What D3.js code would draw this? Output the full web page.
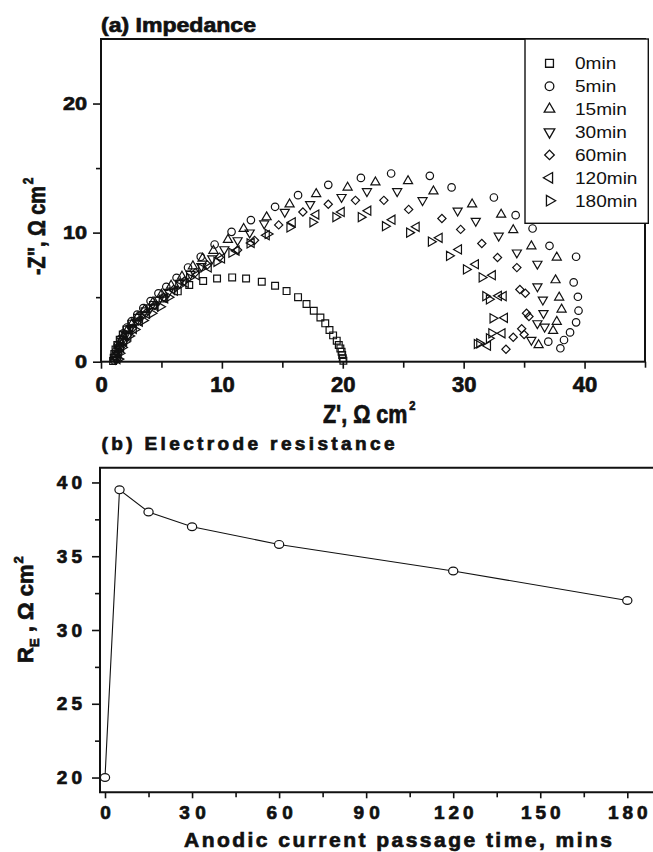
<!DOCTYPE html>
<html><head><meta charset="utf-8">
<script src="https://cdn.jsdelivr.net/npm/d3@7"></script>
<style>
html,body{margin:0;padding:0;background:#fff;}
svg{display:block;font-family:"Liberation Sans",Arial,Helvetica,sans-serif;}
.heavy{font-weight:bold;stroke:#111;stroke-width:0.7px;paint-order:stroke;}
</style></head><body>
<svg id="chart" width="653" height="852"></svg>
<script>
// ---------- Panel (a): Nyquist data, [Z', -Z''] in ohm cm^2 ----------
const s0min = [[1.0,0.05],[1.05,0.3],[1.1,0.6],[1.2,0.95],[1.35,1.3],[1.55,1.7],[1.8,2.1],[2.1,2.5],[2.5,2.95],[3.0,3.4],[3.6,3.9],[4.3,4.4],[5.1,4.9],[6.35,5.45],[7.3,5.94],[8.45,6.25],[9.6,6.45],[10.85,6.53],[12.0,6.45],[13.3,6.19],[14.4,5.88],[15.35,5.47],[16.3,5.0],[17.0,4.47],[17.6,3.95],[18.15,3.43],[18.55,2.97],[18.9,2.45],[19.2,2.04],[19.5,1.63],[19.67,1.29],[19.8,1.03],[19.9,0.77],[19.95,0.52],[20.0,0.26],[20.05,0.08]];
const s5min = [[1.1,0.1],[1.15,0.45],[1.25,0.85],[1.4,1.3],[1.6,1.75],[1.85,2.2],[2.15,2.65],[2.55,3.15],[3.0,3.65],[3.5,4.15],[4.1,4.7],[4.75,5.3],[5.4,5.8],[6.25,6.5],[7.2,7.3],[8.25,8.13],[9.4,9.08],[10.8,10.06],[12.4,10.97],[14.4,12.0],[16.3,12.9],[18.8,13.7],[21.5,14.24],[24.0,14.58],[27.2,14.4],[29.0,13.5],[32.5,12.72],[34.3,11.35],[35.7,10.32],[37.1,8.98],[39.3,8.13],[39.1,6.14],[39.45,5.03],[39.5,3.95],[39.3,3.05],[38.8,2.27],[38.3,1.68],[38.0,1.04],[37.0,1.55]];
const s15min = [[1.15,0.2],[1.25,0.6],[1.4,1.05],[1.6,1.5],[1.85,1.95],[2.15,2.4],[2.55,2.9],[3.0,3.4],[3.6,4.0],[4.3,4.6],[5.0,5.2],[5.8,5.9],[6.7,6.6],[7.6,7.4],[8.4,8.0],[9.3,8.6],[10.5,9.45],[11.8,10.3],[13.7,11.2],[15.6,12.2],[17.8,13.0],[20.4,13.5],[22.7,13.9],[25.4,14.0],[27.5,13.2],[30.7,12.2],[33.1,11.4],[34.1,10.2],[35.6,8.95],[37.7,8.08],[37.6,6.32],[37.9,4.98],[38.1,4.05],[37.7,3.1],[37.4,2.4],[36.2,1.29]];
const s30min = [[1.2,0.2],[1.3,0.65],[1.5,1.1],[1.75,1.6],[2.05,2.1],[2.45,2.6],[2.9,3.1],[3.45,3.65],[4.1,4.2],[4.8,4.8],[5.6,5.4],[6.5,6.1],[7.4,6.8],[8.3,7.4],[9.2,8.0],[10.2,8.7],[11.3,9.4],[12.3,10.0],[13.5,10.7],[15.2,11.6],[17.3,12.2],[19.9,12.75],[22.0,13.2],[24.5,13.2],[26.6,12.5],[29.5,11.7],[31.0,10.9],[32.9,9.75],[34.4,8.45],[36.1,7.58],[36.1,5.83],[36.55,4.8],[36.6,3.75],[36.1,2.97],[36.7,2.7],[35.6,1.68]];
const s60min = [[1.3,0.2],[1.4,0.65],[1.6,1.1],[1.85,1.55],[2.2,2.05],[2.6,2.6],[3.1,3.15],[3.7,3.75],[4.4,4.35],[5.2,5.0],[6.0,5.6],[6.9,6.25],[7.8,6.9],[8.8,7.5],[9.8,8.1],[11.3,8.65],[12.7,9.4],[14.7,10.6],[16.7,11.6],[18.8,12.2],[21.05,12.5],[23.4,12.5],[25.45,11.8],[28.2,11.1],[29.75,10.25],[31.5,9.15],[32.8,8.07],[34.4,7.29],[34.65,5.6],[35.1,5.3],[35.2,3.75],[35.4,3.5],[34.8,2.55],[35.0,2.1],[34.1,1.9],[33.5,0.97]];
const s120min = [[1.35,0.2],[1.45,0.65],[1.65,1.1],[1.9,1.55],[2.25,2.0],[2.7,2.55],[3.2,3.1],[3.8,3.7],[4.5,4.3],[5.3,4.9],[6.1,5.5],[7.0,6.1],[7.9,6.7],[8.9,7.3],[10.0,8.0],[11.2,8.6],[12.45,9.2],[13.7,9.8],[15.85,10.8],[17.8,11.4],[19.9,11.6],[22.1,11.7],[24.1,11.0],[26.1,10.45],[28.0,9.6],[29.6,8.7],[31.0,7.55],[32.4,6.7],[32.9,5.1],[33.3,5.08],[33.4,3.4],[33.2,2.2],[32.0,1.24]];
const s180min = [[1.45,0.2],[1.55,0.65],[1.75,1.1],[2.0,1.55],[2.35,2.0],[2.8,2.5],[3.5,3.2],[4.2,3.75],[4.9,4.26],[5.6,5.0],[6.4,5.86],[7.3,6.5],[8.3,7.23],[9.56,7.74],[10.8,8.44],[12.3,9.16],[13.8,9.9],[15.6,10.4],[17.5,10.8],[19.4,11.2],[21.5,11.2],[23.5,10.5],[25.5,10.0],[27.3,9.3],[28.8,8.2],[30.2,7.15],[31.5,6.53],[31.8,5.08],[32.1,4.83],[32.4,3.36],[32.3,2.2],[32.1,1.81],[31.3,1.42],[31.1,1.37]];
const seriesNames = ["0min","5min","15min","30min","60min","120min","180min"];
const seriesData = [s0min,s5min,s15min,s30min,s60min,s120min,s180min];
const zTicks = [0,10,20,30,40];
const zMinor = [5,15,25,35,45];
const zImTicks = [0,10,20];
const zImMinor = [5,15];

// ---------- Panel (b): electrode resistance ----------
const timeMin = [0,5,15,30,60,120,180];
const resistance = [20,39.5,38,37,35.8,34,32];
const timeTicks = [0,30,60,90,120,150,180];
const timeMinor = [15,45,75,105,135,165];
const resTicks = [20,25,30,35,40];
const resMinor = [22.5,27.5,32.5,37.5];

const svg = d3.select('#chart');
const INK = '#111';

function stretch(sel, f, mode){
  sel.each(function(){
    const w = this.getComputedTextLength();
    if (w>0) d3.select(this).attr('textLength', w*f).attr('lengthAdjust', mode||'spacingAndGlyphs');
  });
}

// marker shapes: [symbol type, size, rotation]
const shapes = [
  [d3.symbolSquare, 46, 0],
  [d3.symbolCircle, 44, 0],
  [d3.symbolTriangle, 36, 0],
  [d3.symbolTriangle, 36, 180],
  [d3.symbolSquare, 34, 45],
  [d3.symbolTriangle, 36, -90],
  [d3.symbolTriangle, 36, 90]
];

// ===== Panel (a) =====
const xA = d3.scaleLinear().domain([0,45]).range([101,645]);
const yA = d3.scaleLinear().domain([0,25]).range([361.7,39]);

const gA = svg.append('g');

const axXa = gA.append('g').attr('transform',`translate(0,${yA(0)})`)
  .call(d3.axisBottom(xA).tickValues(zTicks).tickSize(7).tickPadding(8).tickFormat(d3.format('d')));
gA.append('g').attr('transform',`translate(0,${yA(0)})`)
  .call(d3.axisBottom(xA).tickValues(zMinor).tickSize(6).tickFormat(''));
const axYa = gA.append('g').attr('transform',`translate(${xA(0)},0)`)
  .call(d3.axisLeft(yA).tickValues(zImTicks).tickSize(8).tickPadding(6).tickFormat(d3.format('d')));
gA.append('g').attr('transform',`translate(${xA(0)},0)`)
  .call(d3.axisLeft(yA).tickValues(zImMinor).tickSize(5).tickFormat(''));
gA.selectAll('.domain').remove();
gA.selectAll('.tick line').attr('stroke',INK).attr('stroke-width',1.6);
axXa.selectAll('.tick text').attr('class','heavy').attr('font-size',22).attr('fill',INK).attr('font-family','"Liberation Sans",Arial,sans-serif');
axYa.selectAll('.tick text').attr('class','heavy').attr('font-size',19).attr('fill',INK).attr('font-family','"Liberation Sans",Arial,sans-serif');
stretch(axYa.selectAll('.tick text'), 1.14);

// points
const plotA = gA.append('g');
seriesData.forEach((data,i)=>{
  const [type,size,rot] = shapes[i];
  const sym = d3.symbol().type(type).size(size);
  plotA.selectAll(null).data(data).enter().append('path')
    .attr('d', sym)
    .attr('transform', d=>`translate(${xA(d[0])},${yA(d[1])}) rotate(${rot})`)
    .attr('fill','none').attr('stroke',INK).attr('stroke-width',1.2);
});

// frame
gA.append('rect').attr('x',xA(0)).attr('y',yA(25)).attr('width',xA(45)-xA(0)).attr('height',yA(0)-yA(25))
  .attr('fill','none').attr('stroke',INK).attr('stroke-width',2);

// legend
const lg = gA.append('g');
lg.append('rect').attr('x',525).attr('y',39).attr('width',123.3).attr('height',184.3)
  .attr('fill','#fff').attr('stroke',INK).attr('stroke-width',1.4);
seriesNames.forEach((name,i)=>{
  const cy = 63.3 + i*22.9;
  const [type,size,rot] = shapes[i];
  lg.append('path').attr('d', d3.symbol().type(type).size(size*1.35))
    .attr('transform',`translate(549.5,${cy}) rotate(${rot})`)
    .attr('fill','none').attr('stroke',INK).attr('stroke-width',1.3);
  const t = lg.append('text').attr('x',575).attr('y',cy+5.8).attr('font-size',16).attr('fill',INK).text(name);
  stretch(t, 1.19);
});

// titles
svg.append('text').attr('class','heavy').attr('x',101).attr('y',31.7).attr('font-size',21).attr('fill',INK).text('(a) Impedance')
  .attr('textLength',155).attr('lengthAdjust','spacingAndGlyphs');
const xt = svg.append('text').attr('class','heavy').attr('transform','translate(323,423.3) scale(0.86,1)').attr('font-size',25).attr('fill',INK);
xt.append('tspan').text("Z', Ω cm");
xt.append('tspan').attr('font-size',13).attr('dx',2).attr('dy',-13).text('2');
const yt = svg.append('text').attr('class','heavy').attr('transform','translate(45,275) rotate(-90) scale(0.86,1)').attr('font-size',23).attr('fill',INK);
yt.append('tspan').text('-Z", Ω cm');
yt.append('tspan').attr('font-size',14).attr('dx',2).attr('dy',-12).text('2');

// ===== Panel (b) =====
const xB = d3.scaleLinear().domain([0,180]).range([105,627.3]);
const yB = d3.scaleLinear().domain([19,41]).range([792.3,467.7]);
const gB = svg.append('g');

const axXb = gB.append('g').attr('transform',`translate(0,${yB(19)})`)
  .call(d3.axisBottom(xB).tickValues(timeTicks).tickSize(6).tickPadding(7).tickFormat(d3.format('d')));
gB.append('g').attr('transform',`translate(0,${yB(19)})`)
  .call(d3.axisBottom(xB).tickValues(timeMinor).tickSize(5).tickFormat(''));
const axYb = gB.append('g').attr('transform',`translate(100,0)`)
  .call(d3.axisLeft(yB).tickValues(resTicks).tickSize(8).tickPadding(10).tickFormat(d3.format('d')));
gB.append('g').attr('transform',`translate(100,0)`)
  .call(d3.axisLeft(yB).tickValues(resMinor).tickSize(5).tickFormat(''));
gB.selectAll('.domain').remove();
gB.selectAll('.tick line').attr('stroke',INK).attr('stroke-width',1.6);
gB.selectAll('.tick text').attr('class','heavy').attr('font-size',19).attr('fill',INK).attr('font-family','"Liberation Sans",Arial,sans-serif');
stretch(axXb.selectAll('.tick text'), 1.25, 'spacing');
stretch(axYb.selectAll('.tick text'), 1.2, 'spacing');

// frame (right side open beyond page edge)
gB.append('path').attr('d',`M655,${yB(41)}H100V${yB(19)}H655`)
  .attr('fill','none').attr('stroke',INK).attr('stroke-width',2);

// line + markers
const pts = timeMin.map((t,i)=>[t,resistance[i]]);
gB.append('path').datum(pts)
  .attr('d', d3.line().x(d=>xB(d[0])).y(d=>yB(d[1])))
  .attr('fill','none').attr('stroke',INK).attr('stroke-width',1.1);
gB.selectAll(null).data(pts).enter().append('ellipse')
  .attr('cx',d=>xB(d[0])).attr('cy',d=>yB(d[1])).attr('rx',4.6).attr('ry',3.9)
  .attr('fill','#fff').attr('stroke',INK).attr('stroke-width',1.2);

// titles
svg.append('text').attr('class','heavy').attr('x',101.5).attr('y',450).attr('font-size',19).attr('fill',INK).text('(b) Electrode resistance')
  .attr('textLength',293).attr('lengthAdjust','spacing');
svg.append('text').attr('class','heavy').attr('x',184).attr('y',846.7).attr('font-size',21).attr('fill',INK).text('Anodic current passage time, mins')
  .attr('textLength',428).attr('lengthAdjust','spacing');
const ybt = svg.append('text').attr('class','heavy').attr('transform','translate(33,663) rotate(-90)').attr('font-size',22).attr('fill',INK);
ybt.append('tspan').text('R');
ybt.append('tspan').attr('font-size',13).attr('dy',6).text('E');
ybt.append('tspan').attr('dy',-6).text(' , Ω cm');
ybt.append('tspan').attr('font-size',13).attr('dy',-10).attr('dx',1).text('2');
</script>
</body></html>
